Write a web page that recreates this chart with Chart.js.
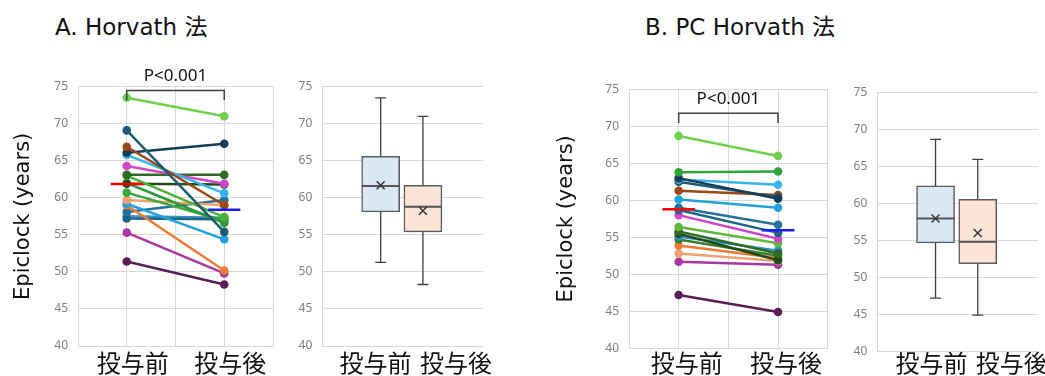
<!DOCTYPE html>
<html>
<head>
<meta charset="utf-8">
<script src="https://cdn.jsdelivr.net/npm/chart.js@4.4.1/dist/chart.umd.min.js"></script>
<style>
body { margin: 0; width: 1045px; height: 376px; background: #fff; position: relative; overflow: hidden; }
.title { position: absolute; top: 8px; font-family: 'DejaVu Sans', 'Noto Sans CJK JP', sans-serif; font-size: 23px; color: #111; white-space: nowrap; }
.panel { position: absolute; top: 0; height: 376px; }
</style>
</head>
<body>
<div class="title" style="left:55px">A. Horvath 法</div>
<div class="title" style="left:645px">B. PC Horvath 法</div>
<div class="panel" style="left:0;width:285px"><canvas id="aLine"></canvas></div>
<div class="panel" style="left:285px;width:215px"><canvas id="aBox"></canvas></div>
<div class="panel" style="left:540px;width:300px"><canvas id="bLine"></canvas></div>
<div class="panel" style="left:840px;width:205px"><canvas id="bBox"></canvas></div>
<script>
// data
var timepoints = ['投与前', '投与後'];
var yMin = 40, yMax = 75, yStep = 5;
var pText = 'P<0.001';

// A. Horvath
var aBefore = [73.5, 69.1, 66.9, 66.1, 65.8, 64.3, 63.1, 63.0, 61.9, 62.0, 60.7, 59.7, 59.2, 59.0, 58.1, 57.2, 57.5, 55.3, 51.4];
var aAfter  = [71.0, 55.4, 59.0, 67.3, 60.6, 61.9, 63.1, 57.4, 61.8, 56.6, 56.9, 59.0, 54.4, 50.2, 59.7, 57.1, 57.3, 49.8, 48.3];
var aMeans = [61.85, 58.4];
var aBracket = [73.2, 74.5];
// box stats: min, q1, median, q3, max, mean
var aBoxBefore = [51.3, 58.1, 61.6, 65.6, 73.5, 61.7];
var aBoxAfter  = [48.3, 55.4, 58.8, 61.7, 71.0, 58.25];

// B. PC Horvath
var bBefore = [68.7, 63.8, 63.0, 62.8, 62.5, 61.3, 60.1, 59.0, 58.7, 58.0, 56.4, 55.8, 55.5, 55.1, 54.7, 53.9, 52.8, 51.7, 47.2];
var bAfter  = [66.0, 63.9, 60.2, 62.1, 60.4, 60.7, 59.0, 56.7, 55.6, 54.8, 54.2, 52.8, 51.9, 53.2, 52.5, 52.2, 51.8, 51.3, 44.9];
var bMeans = [58.8, 55.95];
var bBracket = [70.45, 71.75];
var bBoxBefore = [47.25, 54.7, 58.0, 62.4, 68.7, 58.0];
var bBoxAfter  = [44.95, 51.9, 54.85, 60.6, 66.0, 56.05];

var aColors = ['#6fd04b', '#1d5b78', '#9b4714', '#163e57', '#35b6e8', '#d046c6', '#2f6a22', '#4fb03a',
               '#1f4b1a', '#2d9a3a', '#3aa83c', '#f2a070', '#22a2dc', '#ee7b33', '#26709a', '#1e6585',
               '#3b90c8', '#a8379f', '#5a1d55'];
var bColors = ['#6fd04b', '#2ea43a', '#163e57', '#35b6e8', '#1d5b78', '#9b4714', '#22a2dc', '#26709a',
               '#1e6585', '#d046c6', '#5fb83c', '#2f6a22', '#1f4b1a', '#2a8cc4', '#3b7d2d', '#ee7b33',
               '#f2a070', '#a8379f', '#5a1d55'];

var gridColor = '#d9d9d9';
var tickFont = { family: "'Noto Sans', sans-serif", size: 12 };
var catFont = { family: "'Noto Sans CJK JP', sans-serif", size: 24 };

function yAxis(width, titlePad) {
    return {
        min: yMin, max: yMax,
        ticks: { stepSize: yStep, color: '#7f7f7f', font: tickFont, padding: 10 },
        grid: { color: gridColor, drawTicks: false },
        border: { color: gridColor },
        title: {
            display: titlePad !== null, text: 'Epiclock (years)', color: '#111',
            font: { family: "'DejaVu Sans', sans-serif", size: 21 }, padding: { top: titlePad || 0, bottom: 0 }
        },
        afterFit: function(s) { s.width = width; }
    };
}

function xAxis(height, showGrid, labelPad, labelShift) {
    return {
        type: 'linear', min: 0.5, max: 2.5, offset: false,
        ticks: {
            stepSize: 0.5, autoSkip: false, maxRotation: 0, color: '#111', font: catFont,
            padding: labelPad, labelOffset: labelShift,
            callback: function(v) { return Number.isInteger(v) ? timepoints[v - 1] : ''; }
        },
        grid: { display: showGrid, color: gridColor, drawTicks: false, offset: false },
        border: { color: gridColor },
        afterFit: function(s) { s.height = height; }
    };
}

var pLabel = {
    id: 'pLabel',
    afterDraw: function(chart) {
        var br = chart.options.plugins.pLabel.bracket;
        var x = chart.scales.x, y = chart.scales.y, ctx = chart.ctx;
        ctx.save();
        ctx.font = "17px 'Noto Sans', sans-serif";
        ctx.fillStyle = '#111';
        ctx.textAlign = 'center';
        ctx.textBaseline = 'alphabetic';
        ctx.fillText(pText, (x.getPixelForValue(1) + x.getPixelForValue(2)) / 2, y.getPixelForValue(br[1]) - 9);
        ctx.restore();
    }
};

function pairedChart(id, before, after, colors, means, bracket, yw, titlePad, pad, xh, labelPad, labelShift) {
    var datasets = before.map(function(v, i) {
        return {
            data: [{ x: 1, y: v }, { x: 2, y: after[i] }],
            borderColor: colors[i], backgroundColor: colors[i],
            borderWidth: 2.5, pointRadius: 4.3, pointBorderWidth: 0, pointHoverRadius: 4.3
        };
    });
    datasets.push({ data: [{ x: 0.835, y: means[0] }, { x: 1.165, y: means[0] }], borderColor: '#ff0000', borderWidth: 2.5, pointRadius: 0, order: -1 });
    datasets.push({ data: [{ x: 1.835, y: means[1] }, { x: 2.165, y: means[1] }], borderColor: '#1a1aff', borderWidth: 2.5, pointRadius: 0, order: -1 });
    datasets.push({
        data: [{ x: 1, y: bracket[0] }, { x: 1, y: bracket[1] }, { x: 2, y: bracket[1] }, { x: 2, y: bracket[0] }],
        borderColor: '#404040', borderWidth: 1.5, pointRadius: 0, clip: false, order: -2
    });
    return new Chart(document.getElementById(id), {
        type: 'line',
        data: { datasets: datasets },
        options: {
            responsive: true, maintainAspectRatio: false, animation: false,
            layout: { padding: pad },
            scales: { x: xAxis(xh, true, labelPad, labelShift), y: yAxis(yw, titlePad) },
            plugins: { legend: { display: false }, tooltip: { enabled: false }, pLabel: { bracket: bracket } }
        },
        plugins: [pLabel]
    });
}

var boxParts = {
    id: 'boxParts',
    afterDatasetsDraw: function(chart) {
        var stats = chart.options.plugins.boxParts.stats;
        var y = chart.scales.y, ctx = chart.ctx;
        var meta = chart.getDatasetMeta(0);
        ctx.save();
        meta.data.forEach(function(bar, i) {
            var s = stats[i], cx = bar.x, hw = bar.width / 2;
            ctx.strokeStyle = '#404040';
            ctx.lineWidth = 1.3;
            ctx.beginPath();
            ctx.moveTo(cx, y.getPixelForValue(s[3])); ctx.lineTo(cx, y.getPixelForValue(s[4]));
            ctx.moveTo(cx, y.getPixelForValue(s[1])); ctx.lineTo(cx, y.getPixelForValue(s[0]));
            ctx.moveTo(cx - 5.5, y.getPixelForValue(s[4])); ctx.lineTo(cx + 5.5, y.getPixelForValue(s[4]));
            ctx.moveTo(cx - 5.5, y.getPixelForValue(s[0])); ctx.lineTo(cx + 5.5, y.getPixelForValue(s[0]));
            ctx.stroke();
            ctx.strokeStyle = '#555';
            ctx.lineWidth = 2;
            ctx.beginPath();
            ctx.moveTo(cx - hw, y.getPixelForValue(s[2])); ctx.lineTo(cx + hw, y.getPixelForValue(s[2]));
            ctx.stroke();
            var my = y.getPixelForValue(s[5]);
            ctx.strokeStyle = '#333';
            ctx.lineWidth = 1.5;
            ctx.beginPath();
            ctx.moveTo(cx - 4, my - 4); ctx.lineTo(cx + 4, my + 4);
            ctx.moveTo(cx - 4, my + 4); ctx.lineTo(cx + 4, my - 4);
            ctx.stroke();
        });
        ctx.restore();
    }
};

function boxChart(id, before, after, yw, pad, xh, labelPad, labelShift) {
    return new Chart(document.getElementById(id), {
        type: 'bar',
        data: {
            datasets: [{
                data: [{ x: 1.225, y: [before[1], before[3]] }, { x: 1.75, y: [after[1], after[3]] }],
                backgroundColor: ['#dae8f5', '#fce4d6'],
                borderColor: '#5a5a5a', borderWidth: 1.5, borderSkipped: false,
                barThickness: 38
            }]
        },
        options: {
            responsive: true, maintainAspectRatio: false, animation: false,
            layout: { padding: pad },
            scales: { x: xAxis(xh, false, labelPad, labelShift), y: yAxis(yw, null) },
            plugins: { legend: { display: false }, tooltip: { enabled: false }, boxParts: { stats: [before, after] } }
        },
        plugins: [boxParts]
    });
}

pairedChart('aLine', aBefore, aAfter, aColors, aMeans, aBracket, 78, 11, { top: 86.7, right: 12, left: 0, bottom: 0 }, 30, 2, 6);
boxChart('aBox', aBoxBefore, aBoxAfter, 37.3, { top: 86.7, right: 16.7, left: 0, bottom: 0 }, 30, 2, 13);
pairedChart('bLine', bBefore, bAfter, bColors, bMeans, bBracket, 89, 14, { top: 89.3, right: 12.3, left: 0, bottom: 0 }, 27.7, 0, 8);
boxChart('bBox', bBoxBefore, bBoxAfter, 37.3, { top: 92.7, right: 7, left: 0, bottom: 0 }, 24.3, -3, 14);
</script>
</body>
</html>
